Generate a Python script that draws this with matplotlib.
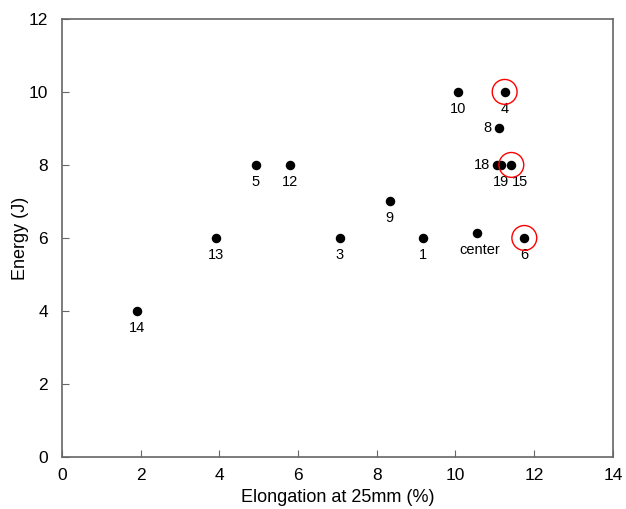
import matplotlib
matplotlib.use("Agg")
import matplotlib.pyplot as plt

plt.rcParams['font.family'] = ['Liberation Sans', 'DejaVu Sans']

# sample points
labels = ['14', '13', '5', '12', '3', '9', '1', 'center', '10', '4', '8', '18', '19', '15', '6']
elong = [1.90, 3.91, 4.93, 5.79, 7.06, 8.33, 9.17, 10.55, 10.06, 11.25, 11.10, 11.05, 11.16, 11.42, 11.75]
energy = [4, 6, 8, 8, 6, 7, 6, 6.14, 10, 10, 9, 8, 8, 8, 6]

# label offsets in points (dx, dy); dy=0 means label sits to the left
offsets = {'18': (-5, 0), '8': (-5, 0), 'center': (2, -7), '15': (6, -7)}

circled = ['4', '15', '6']

fig = plt.figure(figsize=(6.26, 5.09), dpi=100)
ax = fig.add_axes([0.099, 0.102, 0.880, 0.861])

ax.scatter(elong, energy, s=34, color='black', zorder=3)

for lab, x, y in zip(labels, elong, energy):
    dx, dy = offsets.get(lab, (0, -7))
    ha = 'right' if dy == 0 else 'center'
    va = 'center' if dy == 0 else 'top'
    ax.annotate(lab, (x, y), xytext=(dx, dy), textcoords='offset points',
                ha=ha, va=va, fontsize=10.5)
    if lab in circled:
        ax.scatter([x], [y], s=320, facecolors='none', edgecolors='red',
                   linewidths=1.0, zorder=4)

ax.set_xlim(0, 14)
ax.set_ylim(0, 12)
ax.set_xticks(range(0, 15, 2))
ax.set_yticks(range(0, 13, 2))
ax.tick_params(direction='in', labelsize=12.5, color='#666666', length=5)
ax.tick_params(axis='x', pad=8)
ax.tick_params(axis='y', pad=10)
for sp in ax.spines.values():
    sp.set_color('#666666')
    sp.set_linewidth(1.2)

ax.set_xlabel('Elongation at 25mm (%)', fontsize=13, labelpad=4)
ax.set_ylabel('Energy (J)', fontsize=13, labelpad=0)

fig.savefig('out.png', dpi=100)
